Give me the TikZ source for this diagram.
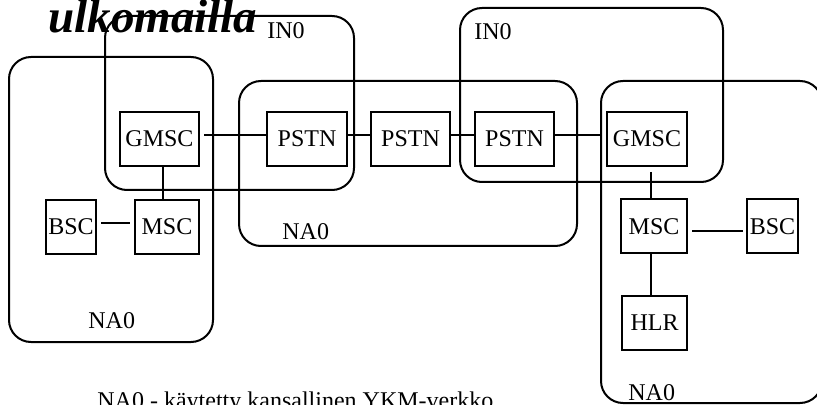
\documentclass[tikz,border=0pt]{standalone}
\usepackage{fontspec}
\setmainfont{Liberation Serif}
\usetikzlibrary{calc}
\newcommand*{\PlaceUnits}[1]{% #1 = list of name/x/y/width/label
  \foreach \name/\x/\y/\w/\lbl in {#1} {
    \node [draw=black, minimum width=\w*0.5pt, minimum height=27pt, inner sep=0pt, line width=1pt]
      (\name) at (\x,\y) {\lbl};
    }%
}
\newcommand*{\DrawAreas}[1]{% #1 = list of x/y/x/y corners
  \foreach \xa/\ya/\xb/\yb in {#1} {
    \draw [rounded corners=11pt, line width=1pt] (\xa,\ya) rectangle (\xb,\yb);
    }%
}
\tikzset{link/.style={line width=1pt},
         tag/.style={anchor=base west, inner sep=0pt}}

\begin{document}
\begin{tikzpicture}[x=0.5pt,y=-0.5pt,font=\fontsize{12}{14}\selectfont]
    \useasboundingbox (0,0) rectangle (817,405);
    \begin{scope}[local bounding box=net]

         \DrawAreas{
            9/57/213/342,
            105/16/354/190,
            239/81/577/246,
            460/8/723/182,
            601/81/822/403
         }

         \PlaceUnits{
            gmscL/159.5/139/79/GMSC,
            pstnA/307/139/80/PSTN,
            pstnB/410.5/139/79/PSTN,
            pstnC/514.5/139/79/PSTN,
            gmscR/647/139/80/GMSC,
            bscL/71/227/50/BSC,
            mscL/167/227/64/MSC,
            mscR/654/226.5/66/MSC,
            bscR/772.5/226.5/51/BSC,
            hlr/654.5/323/65/HLR
         }

         % connections
         \draw [link, shorten <=2pt] ([yshift=2pt]gmscL.east) -- ([yshift=2pt]pstnA.west);
         \draw [link] ([yshift=2pt]pstnA.east) -- ([yshift=2pt]pstnB.west);
         \draw [link] ([yshift=2pt]pstnB.east) -- ([yshift=2pt]pstnC.west);
         \draw [link, shorten >=2pt] ([yshift=2pt]pstnC.east) -- ([yshift=2pt]gmscR.west);
         \draw [link] ([xshift=1.75pt]gmscL.south) -- ([xshift=1.75pt]gmscL.south |- mscL.north);
         \draw [link, shorten <=2pt, shorten >=2pt] ([yshift=2pt]bscL.east) -- ([yshift=2pt]bscL.east -| mscL.west);
         \draw [link, shorten <=2.5pt] ([xshift=2pt]gmscR.south) -- ([xshift=2pt]gmscR.south |- mscR.north);
         \draw [link, shorten <=2pt, shorten >=1.5pt] ([yshift=-2.25pt]mscR.east) -- ([yshift=-2.25pt]mscR.east -| bscR.west);
         \draw [link] ([xshift=-1.5pt]mscR.south) -- ([xshift=-1.5pt]mscR.south |- hlr.north);

         % area labels
         \node (inA) [tag] at (267,39) {IN0};
         \node (inB) [tag] at (474,40) {IN0};
         \node (naA) [tag] at (88,328) {NA0};
         \node (naB) [tag] at (282,240) {NA0};
         \node (naC) [tag] at (628,400) {NA0};

         \node (abroad) [tag, font=\fontsize{23.5}{26}\selectfont\bfseries\itshape] at (48,33) {ulkomailla};
         \node (legend) [tag] at (97,408) {NA0 - käytetty kansallinen YKM-verkko};

    \end{scope}
\end{tikzpicture}
\end{document}
